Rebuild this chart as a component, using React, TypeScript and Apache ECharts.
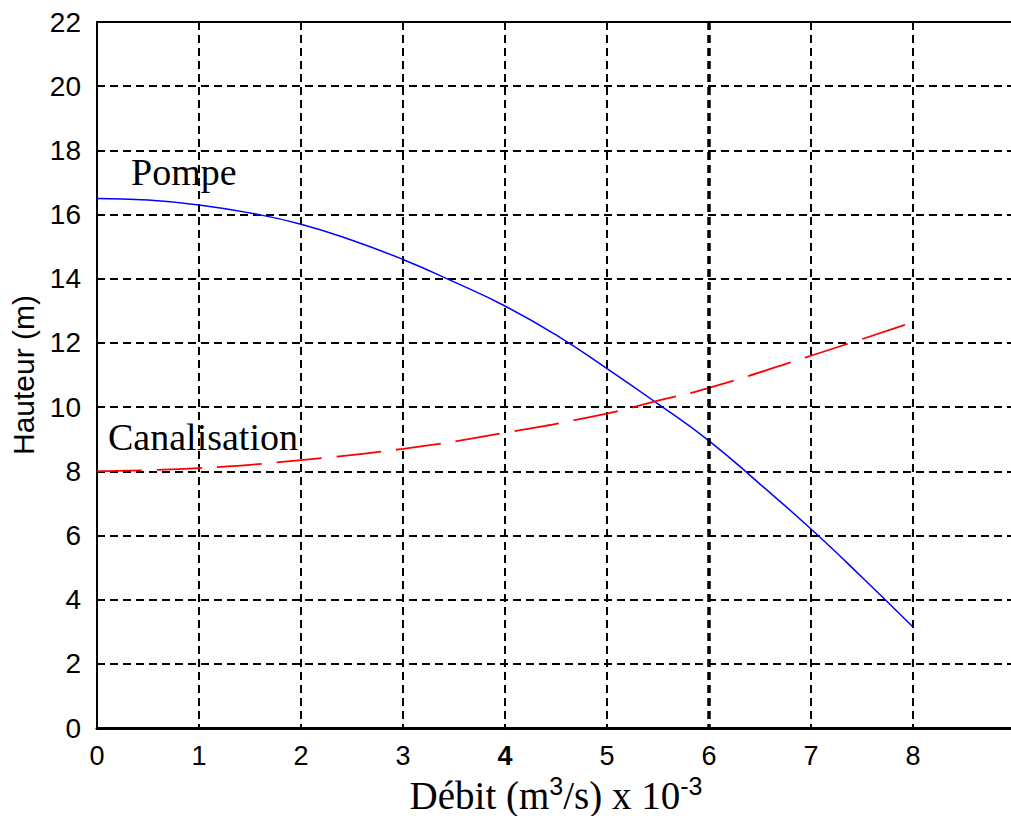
import React, { useEffect, useRef } from "react";
import * as echarts from "echarts";

const xTicks = [0, 1, 2, 3, 4, 5, 6, 7, 8];
const yTicks = [0, 2, 4, 6, 8, 10, 12, 14, 16, 18, 20, 22];

const pompeQ = [0, 0.5, 1, 1.5, 2, 2.5, 3, 3.5, 4, 4.5, 5, 5.5, 6, 6.5, 7, 7.5, 8];
const pompeH = [16.5, 16.45, 16.3, 16.05, 15.7, 15.2, 14.6, 13.9, 13.15, 12.25, 11.2, 10.1, 8.95, 7.6, 6.2, 4.7, 3.15];

const canalQ = [0, 1, 2, 3, 4, 5, 5.5, 6, 7, 8];
const canalH = [8.0, 8.1, 8.35, 8.7, 9.2, 9.8, 10.2, 10.6, 11.6, 12.65];

const labelFont = "'Liberation Sans', Arial, sans-serif";
const serifFont = "'Liberation Serif', 'DejaVu Serif', serif";

export default function App() {
  const ref = useRef<HTMLDivElement>(null);
  useEffect(() => {
    if (!ref.current) return;
    const chart = echarts.init(ref.current, null, { renderer: "svg" });
    chart.setOption({
      animation: false,
      backgroundColor: "#ffffff",
      grid: {
        left: 97,
        top: 22,
        width: 918,
        height: 706,
        show: true,
        borderColor: "#000",
        borderWidth: 2,
        containLabel: false,
        outerBoundsMode: "none",
      },
      xAxis: {
        type: "value",
        min: 0,
        max: 9,
        interval: 1,
        axisLine: { show: true, lineStyle: { color: "#000", width: 3 } },
        axisTick: { show: false },
        axisLabel: {
          color: "#000",
          fontFamily: labelFont,
          fontSize: 27,
          margin: 14,
          formatter: (v: number) => (xTicks.includes(v) ? (v === 4 ? "{b|4}" : String(v)) : ""),
          rich: { b: { fontWeight: "bold", fontSize: 27, fontFamily: labelFont, color: "#000" } },
        },
        splitLine: { show: true, lineStyle: { color: "#000", width: 2, type: [8, 5] } },
        name: "{t|Débit (m}{s|3}{t|/s) x 10}{s|-3}",
        nameLocation: "middle",
        nameGap: 37,
        nameTextStyle: {
          rich: {
            t: { fontFamily: serifFont, fontSize: 39, color: "#000" },
            s: { fontFamily: labelFont, fontSize: 25, color: "#000", verticalAlign: "top", padding: [0, 0, 18, 0] },
          },
        },
      },
      yAxis: {
        type: "value",
        min: 0,
        max: 22,
        interval: 2,
        axisLine: { show: true, lineStyle: { color: "#000", width: 2 } },
        axisTick: { show: false },
        axisLabel: {
          color: "#000",
          fontFamily: labelFont,
          fontSize: 28,
          margin: 16,
          formatter: (v: number) => (yTicks.includes(v) ? String(v) : ""),
        },
        splitLine: { show: true, lineStyle: { color: "#000", width: 2, type: [8, 5] } },
        name: "Hauteur (m)",
        nameLocation: "middle",
        nameGap: 57,
        nameTextStyle: { fontFamily: labelFont, fontSize: 30, color: "#000" },
      },
      series: [
        {
          name: "Pompe",
          type: "line",
          smooth: true,
          showSymbol: false,
          data: pompeQ.map((q, i) => [q, pompeH[i]]),
          lineStyle: { color: "#0000ff", width: 1.5 },
          z: 3,
        },
        {
          name: "Canalisation",
          type: "line",
          smooth: true,
          showSymbol: false,
          data: canalQ.map((q, i) => [q, canalH[i]]),
          lineStyle: { color: "#ff0000", width: 1.8, type: [45, 15] },
          z: 3,
        },
        {
          type: "line",
          data: [],
          markLine: {
            silent: true,
            symbol: "none",
            label: { show: false },
            lineStyle: { color: "#000", width: 3.5, type: [8, 5], dashOffset: 4 },
            data: [{ xAxis: 6 }],
          },
        },
      ],
      graphic: [
        {
          type: "text",
          left: 131,
          top: 153,
          style: { text: "Pompe", font: `38px ${serifFont}`, fill: "#000" },
        },
        {
          type: "text",
          left: 108,
          top: 418,
          style: { text: "Canalisation", font: `38px ${serifFont}`, fill: "#000" },
        },
      ],
    });
    return () => chart.dispose();
  }, []);
  return (
    <div
      ref={ref}
      style={{ position: "absolute", left: 0, top: 0, width: 1011, height: 816 }}
    />
  );
}
